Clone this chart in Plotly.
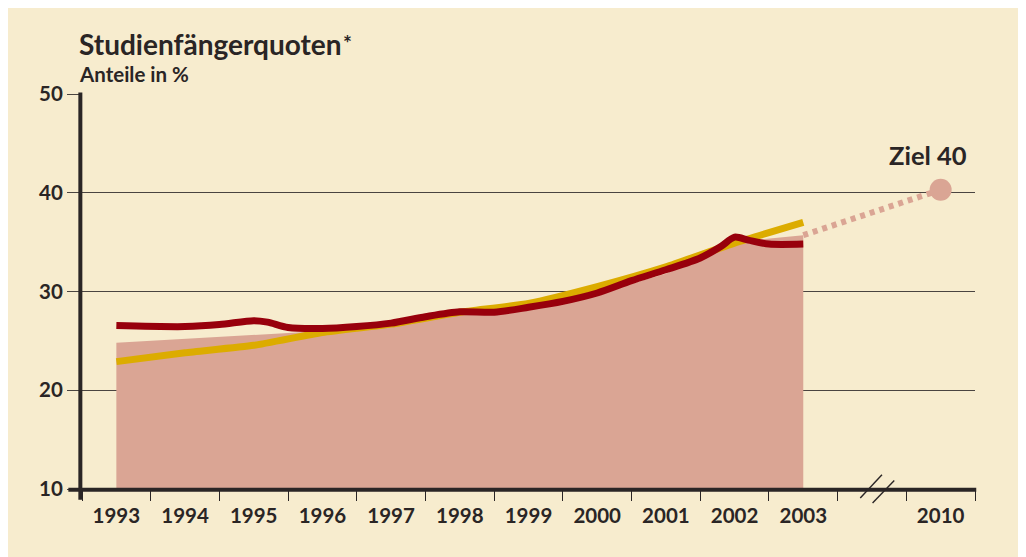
import plotly.graph_objects as go

# ---------------- data ----------------
years_hist = [1993, 1994, 1995, 1996, 1997, 1998, 1999, 2000, 2001, 2002, 2003]
tick_years = [1993, 1994, 1995, 1996, 1997, 1998, 1999, 2000, 2001, 2002, 2003, 2010]
tick_text = ["1993", "1994", "1995", "1996", "1997", "1998", "1999", "2000",
             "2001", "2002", "2003", "2010"]

area_vals = [24.8, 25.2, 25.65, 26.0, 26.6, 27.6, 28.3, 29.8, 31.8, 35.0, 35.7]
yellow_vals = [22.9, 23.8, 24.55, 25.85, 26.7, 27.9, 28.8, 30.5, 32.5, 34.9, 37.0]

red_years = [1993, 1994, 1994.5, 1995, 1995.2, 1995.5, 1996, 1996.5, 1997, 1997.5,
             1998, 1998.5, 1999, 1999.5, 2000, 2000.5, 2001, 2001.5, 2001.8, 2002,
             2002.2, 2002.5, 2003]
red_vals = [26.55, 26.45, 26.65, 27.05, 26.9, 26.35, 26.25, 26.45, 26.8, 27.45,
            27.95, 27.9, 28.4, 29.0, 29.85, 31.1, 32.2, 33.4, 34.55, 35.5,
            35.2, 34.8, 34.8]

target_years = [2003, 2010]
target_vals = [35.7, 40.3]

y_ticks = [10, 20, 30, 40, 50]


def pos(year):
    # position on the broken axis (an empty slot before 2010)
    return year - 1993 if year <= 2003.5 else 12


# ---------------- styles ----------------
BG = "#F7ECCE"
AREA = "#DAA594"
YELLOW = "#DCAC00"
RED = "#98000C"
DARK = "#2A2525"
GRID = "#4A4440"
FONT = "Lato"

# screen geometry (page has 8px body margin)
PL, PR, PT, PB = 81.65, 974.75, 94.0, 489.3


def fx(sx):
    return (sx - PL) / (PR - PL)


def fy(sy):
    return (PB - sy) / (PB - PT)


fig = go.Figure()

fig.add_trace(go.Scatter(
    x=[pos(y) for y in years_hist], y=area_vals, mode="lines",
    fill="tozeroy", fillcolor=AREA, line=dict(width=0, color=AREA),
    hoverinfo="skip", showlegend=False))

fig.add_trace(go.Scatter(
    x=[pos(y) for y in years_hist], y=yellow_vals, mode="lines",
    line=dict(color=YELLOW, width=7, shape="spline", smoothing=0.5),
    showlegend=False))

fig.add_trace(go.Scatter(
    x=[pos(y) for y in red_years], y=red_vals, mode="lines",
    line=dict(color=RED, width=7, shape="spline", smoothing=0.8),
    showlegend=False))

fig.add_trace(go.Scatter(
    x=[pos(y) for y in target_years], y=target_vals, mode="lines",
    line=dict(color=AREA, width=6, dash="5px,5px"),
    showlegend=False))

fig.add_trace(go.Scatter(
    x=[pos(target_years[-1])], y=[target_vals[-1]], mode="markers",
    marker=dict(size=22, color=AREA, line=dict(width=0)),
    showlegend=False, cliponaxis=False))

shapes = [
    # y axis line
    dict(type="line", xref="paper", yref="paper", x0=fx(80), x1=fx(80),
         y0=fy(92.5), y1=fy(500), line=dict(color=DARK, width=4)),
    # x axis line
    dict(type="line", xref="paper", yref="paper", x0=fx(68), x1=fx(976),
         y0=fy(490), y1=fy(490), line=dict(color=DARK, width=4)),
    # axis break marks
    dict(type="line", xref="paper", yref="paper", x0=fx(860), x1=fx(881.7),
         y0=fy(498.3), y1=fy(475), line=dict(color=DARK, width=1.4)),
    dict(type="line", xref="paper", yref="paper", x0=fx(872.3), x1=fx(894),
         y0=fy(503.3), y1=fy(480.7), line=dict(color=DARK, width=1.4)),
]

annotations = [
    dict(text="<b>Studienfängerquoten</b>", xref="paper", yref="paper",
         x=fx(77), y=fy(43.5), xanchor="left", yanchor="middle", showarrow=False,
         font=dict(family=FONT, size=28, color=DARK)),
    dict(text="<b>*</b>", xref="paper", yref="paper",
         x=fx(341), y=fy(42), xanchor="left", yanchor="middle", showarrow=False,
         font=dict(family=FONT, size=21, color=DARK)),
    dict(text="<b>Anteile in %</b>", xref="paper", yref="paper",
         x=fx(77), y=fy(74.0), xanchor="left", yanchor="middle", showarrow=False,
         font=dict(family=FONT, size=20.5, color=DARK)),
    dict(text="<b>Ziel 40</b>", xref="paper", yref="paper",
         x=fx(928), y=fy(155.3), xanchor="center", yanchor="middle", showarrow=False,
         font=dict(family=FONT, size=25.5, color=DARK)),
]

fig.update_layout(
    width=1018, height=549,
    margin=dict(l=PL - 8, r=1018 - (PR - 8), t=PT - 8, b=549 - (PB - 8), autoexpand=False),
    paper_bgcolor=BG, plot_bgcolor=BG,
    shapes=shapes, annotations=annotations,
    showlegend=False,
    xaxis=dict(
        range=[-0.5, 12.5], showgrid=False, zeroline=False, showline=False,
        tickmode="array", tickvals=[pos(y) for y in tick_years],
        ticktext=tick_text, ticklabelstandoff=12,
        ticks="", tickfont=dict(family=FONT, size=20.5, color=DARK, weight="bold"),
        minor=dict(ticks="outside", tick0=0.5, dtick=1, ticklen=11, tickwidth=1.4,
                   tickcolor=DARK, showgrid=False),
        fixedrange=True,
    ),
    yaxis=dict(
        range=[10, 50], tickmode="array", tickvals=y_ticks,
        ticktext=[str(v) for v in y_ticks],
        showgrid=True, gridcolor=GRID, gridwidth=1.3, zeroline=False, showline=False,
        ticks="outside", ticklen=14, tickwidth=1.3, tickcolor=GRID,
        tickfont=dict(family=FONT, size=20.5, color=DARK, weight="bold"),
        fixedrange=True,
    ),
)

fig.write_html("out.html")
